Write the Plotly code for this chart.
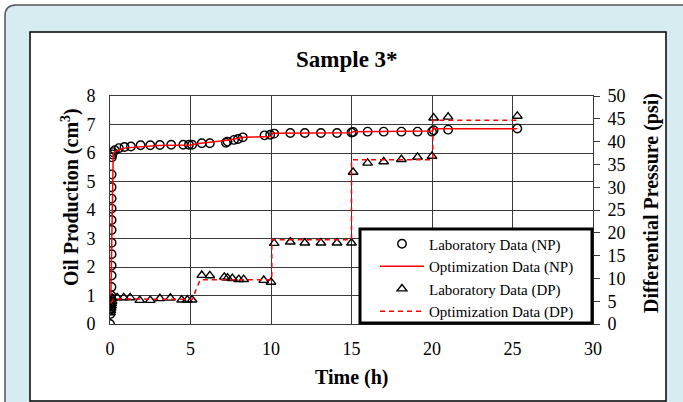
import plotly.graph_objects as go

# ---------------- data ----------------
t_np_lab = [0.00, 0.02, 0.03, 0.04, 0.05, 0.06, 0.07, 0.08, 0.09, 0.10, 0.10, 0.10,
            0.10, 0.10, 0.10, 0.10, 0.10, 0.10, 0.10, 0.12, 0.15, 0.18, 0.30, 0.55,
            0.90, 1.30, 1.90, 2.50, 3.10, 3.80, 4.55, 4.90, 5.10, 5.70, 6.20, 7.20,
            7.30, 7.70, 7.95, 8.25, 9.60, 9.95, 10.20, 11.20, 12.10, 13.10, 14.10,
            15.00, 15.10, 16.00, 17.00, 18.10, 19.10, 20.00, 20.10, 21.00, 25.30]
np_lab = [0.00, 0.35, 0.50, 0.60, 0.70, 0.80, 0.90, 1.00, 1.30, 1.70, 2.05, 2.45,
          2.85, 3.30, 3.65, 4.05, 4.40, 4.80, 5.25, 5.85, 5.95, 6.03, 6.10, 6.17,
          6.21, 6.23, 6.27, 6.27, 6.28, 6.29, 6.29, 6.29, 6.29, 6.34, 6.34, 6.36,
          6.40, 6.46, 6.49, 6.55, 6.62, 6.64, 6.68, 6.70, 6.70, 6.70, 6.70,
          6.72, 6.74, 6.75, 6.75, 6.75, 6.75, 6.75, 6.80, 6.82, 6.86]

t_np_opt = [0.05, 0.10, 0.20, 0.30, 0.60, 1.00, 2.00, 3.00, 5.00, 5.50, 7.30, 8.30,
            10.00, 10.10, 15.00, 15.10, 20.00, 20.10, 25.30]
np_opt = [0.85, 3.00, 5.95, 6.05, 6.12, 6.18, 6.23, 6.26, 6.28, 6.33, 6.45, 6.55,
          6.58, 6.69, 6.71, 6.75, 6.77, 6.85, 6.85]

t_dp_lab = [0.03, 0.05, 0.07, 0.09, 0.11, 0.13, 0.15, 0.45, 0.85, 1.25, 1.85, 2.50,
            3.10, 3.75, 4.45, 4.80, 5.10, 5.70, 6.20, 7.10, 7.30, 7.60, 8.00, 8.30,
            9.55, 10.00, 10.20, 11.20, 12.10, 13.10, 14.10, 15.00, 15.10, 16.00,
            17.00, 18.10, 19.10, 20.00, 20.10, 21.00, 25.30]
dp_lab = [2.5, 3.0, 3.5, 4.0, 4.5, 5.0, 5.6, 5.8, 5.8, 5.8, 5.2, 5.2,
          5.6, 5.7, 5.3, 5.3, 5.3, 10.7, 10.6, 10.3, 10.1, 10.0, 9.8, 9.8,
          9.6, 9.2, 17.7, 18.0, 17.8, 17.8, 17.8, 17.8, 33.3, 35.3,
          35.6, 36.1, 36.6, 36.8, 45.2, 45.4, 45.6]

t_dp_opt = [0.05, 0.20, 5.10, 5.60, 10.05, 10.05, 15.00, 15.00, 20.05, 20.05, 25.30]
dp_opt = [4.5, 5.5, 5.4, 9.7, 9.7, 18.5, 18.5, 36.0, 36.0, 44.7, 44.7]

x_ticks = [0, 5, 10, 15, 20, 25, 30]
y_ticks = [0, 1, 2, 3, 4, 5, 6, 7, 8]
y2_ticks = [0, 5, 10, 15, 20, 25, 30, 35, 40, 45, 50]

# ---------------- layout helpers ----------------
W, H = 683, 402
L, R, T, B = 110, 90, 96, 78
PW, PH = W - L - R, H - T - B


def px(x):
    return (x - L) / PW


def py(y):
    return (H - B - y) / PH


SERIF = "Liberation Serif, Times New Roman, serif"
GRID = "#3a3a3a"

fig = go.Figure()
fig.add_trace(go.Scatter(
    x=t_np_lab, y=np_lab, mode="markers", name="Laboratory Data (NP)",
    marker=dict(symbol="circle-open", size=8.5, color="black", line=dict(width=1.4, color="black")),
))
fig.add_trace(go.Scatter(
    x=t_np_opt, y=np_opt, mode="lines", name="Optimization Data (NP)",
    line=dict(color="#ff0000", width=1.5),
))
fig.add_trace(go.Scatter(
    x=t_dp_lab, y=dp_lab, mode="markers", name="Laboratory Data (DP)", yaxis="y2",
    marker=dict(symbol="triangle-up-open", size=8.5, color="black", line=dict(width=1.4, color="black")),
))
fig.add_trace(go.Scatter(
    x=t_dp_opt, y=dp_opt, mode="lines", name="Optimization Data (DP)", yaxis="y2",
    line=dict(color="#ff0000", width=1.5, dash="5px,4px"),
))

card = (f"M{px(5)},{py(430)} L{px(5)},{py(16)} Q{px(5)},{py(5)} {px(16)},{py(5)} "
        f"L{px(720)},{py(5)} L{px(720)},{py(430)} Z")

fig.update_layout(
    width=W, height=H,
    margin=dict(l=L, r=R, t=T, b=B, pad=0),
    paper_bgcolor="white",
    plot_bgcolor="rgba(0,0,0,0)",
    showlegend=True,
    font=dict(family=SERIF, color="black", size=18),
    shapes=[
        dict(type="path", xref="paper", yref="paper", path=card, layer="below",
             fillcolor="#d7ecf1", line=dict(color="#555555", width=1.5)),
        dict(type="rect", xref="paper", yref="paper", layer="below",
             x0=px(30), x1=px(666), y0=py(401), y1=py(32),
             fillcolor="white", line=dict(color="black", width=1.5)),
        dict(type="rect", xref="paper", yref="paper", layer="above",
             x0=px(360), x1=px(592), y0=py(323), y1=py(229),
             fillcolor="white", line=dict(color="black", width=3)),
    ],
    xaxis=dict(
        range=[0, 30], tickvals=x_ticks, ticktext=[str(v) for v in x_ticks],
        showgrid=True, gridcolor=GRID, gridwidth=1, zeroline=False,
        showline=True, mirror=True, linecolor=GRID, linewidth=1,
        ticks="", tickfont=dict(size=18, family=SERIF), ticklabelstandoff=8,
        fixedrange=True,
    ),
    yaxis=dict(
        range=[0, 8], tickvals=y_ticks, ticktext=[str(v) for v in y_ticks],
        showgrid=True, gridcolor=GRID, gridwidth=1, zeroline=False,
        showline=True, mirror=True, linecolor=GRID, linewidth=1,
        ticks="", tickfont=dict(size=18, family=SERIF), ticklabelstandoff=10,
        fixedrange=True,
    ),
    yaxis2=dict(
        range=[0, 50], tickvals=y2_ticks, ticktext=[str(v) for v in y2_ticks],
        overlaying="y", side="right", showgrid=False, zeroline=False,
        showline=True, linecolor=GRID, linewidth=1,
        ticks="outside", ticklen=6, tickcolor=GRID, tickwidth=1,
        tickfont=dict(size=18, family=SERIF), ticklabelstandoff=4,
        fixedrange=True,
    ),
    legend=dict(
        x=px(375), y=py(227.5), xanchor="left", yanchor="top",
        bgcolor="rgba(0,0,0,0)", borderwidth=0,
        font=dict(size=15, family=SERIF), itemwidth=44,
        tracegroupgap=0,
    ),
    annotations=[
        dict(text="<b>Sample 3*</b>", xref="paper", yref="paper", x=px(347), y=py(60),
             xanchor="center", yanchor="middle", showarrow=False,
             font=dict(size=23, family=SERIF)),
        dict(text="<b>Time (h)</b>", xref="paper", yref="paper", x=px(352), y=py(377),
             xanchor="center", yanchor="middle", showarrow=False,
             font=dict(size=20, family=SERIF)),
        dict(text="<b>Oil Production (cm<sup>3</sup>)</b>", xref="paper", yref="paper",
             x=px(70), y=py(197), xanchor="center", yanchor="middle", textangle=-90,
             showarrow=False, font=dict(size=20, family=SERIF)),
        dict(text="<b>Differential Pressure (psi)</b>", xref="paper", yref="paper",
             x=px(651), y=py(203), xanchor="center", yanchor="middle", textangle=-90,
             showarrow=False, font=dict(size=20, family=SERIF)),
    ],
)

fig.write_html("out.html", config={"displayModeBar": False},
               post_script="document.body.style.margin='0px';")
